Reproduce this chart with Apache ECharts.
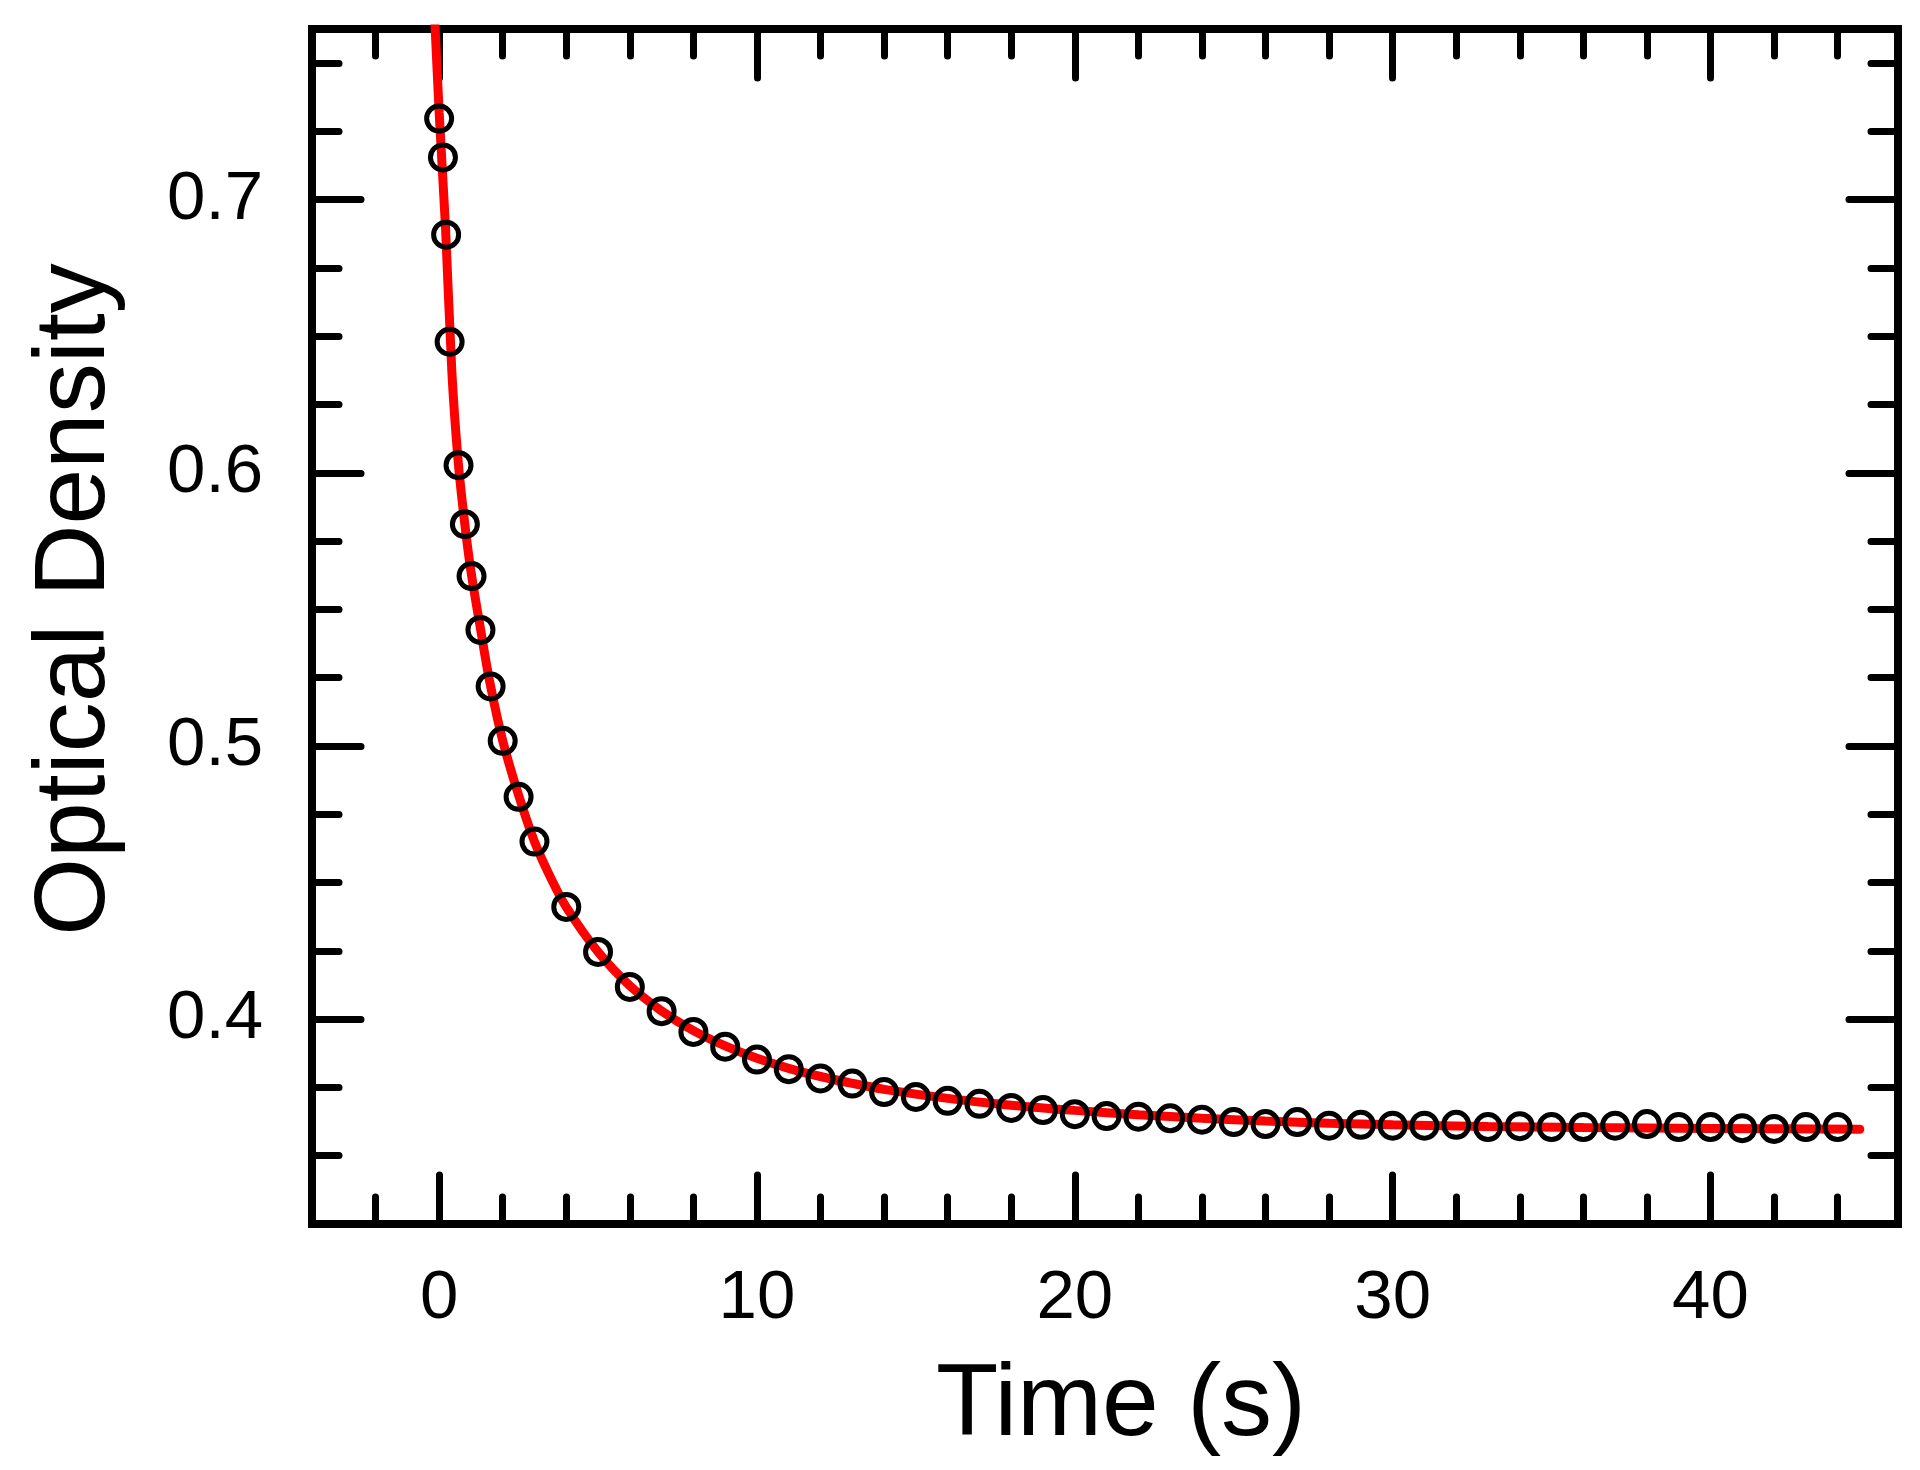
<!DOCTYPE html>
<html>
<head>
<meta charset="utf-8">
<title>Optical Density</title>
<script src="https://cdn.jsdelivr.net/npm/echarts@6.0.0/dist/echarts.min.js"></script>
<style>
    html, body {margin: 0; padding: 0; background: #fff;}
    #chart {width: 1920px; height: 1470px;}
</style>
</head>
<body>
<div id="chart"></div>
<script>
// measured points (circles)
var timeData = [0, 0.12, 0.22, 0.33, 0.61, 0.81, 1.02, 1.3, 1.62, 2, 2.5, 3,
    4, 5, 6, 7, 8, 9, 10, 11, 12, 13, 14, 15, 16, 17, 18, 19, 20, 21, 22, 23, 24,
    25, 26, 27, 28, 29, 30, 31, 32, 33, 34, 35, 36, 37, 38, 39, 40, 41, 42, 43, 44];
var odData = [0.7297, 0.7155, 0.6872, 0.648, 0.6028, 0.5812, 0.5622, 0.5425, 0.5218, 0.5019, 0.4814, 0.465,
    0.4411, 0.4246, 0.4118, 0.4029, 0.3953, 0.3899, 0.3852, 0.3817, 0.3783, 0.3764, 0.3733, 0.3715, 0.3701,
    0.369, 0.3675, 0.3667, 0.3652, 0.3645, 0.3643, 0.3637, 0.3632, 0.3623, 0.3616, 0.3623, 0.361, 0.3613,
    0.361, 0.361, 0.3613, 0.3605, 0.3608, 0.3605, 0.3605, 0.361, 0.3616, 0.3605, 0.3605, 0.3601, 0.3598,
    0.3605, 0.3605];

// fitted curve (red)
var fitTime = [-0.2, 0, 0.2, 0.4, 0.6, 0.8, 1, 1.3, 1.6, 2, 2.5, 3, 3.5, 4, 5, 6, 7, 8, 9, 10,
    11, 12, 13, 14, 16, 18, 20, 22, 24, 26, 28, 30, 33, 36, 40, 44.7];
var fitOD = [0.782, 0.732, 0.69, 0.637, 0.604, 0.582, 0.564, 0.543, 0.523, 0.502, 0.482, 0.465, 0.452,
    0.441, 0.4246, 0.4122, 0.403, 0.3958, 0.3902, 0.3857, 0.382, 0.379, 0.3765, 0.3743, 0.371, 0.3685,
    0.3666, 0.365, 0.3637, 0.3627, 0.3619, 0.3613, 0.3607, 0.3603, 0.36, 0.3597];

// ticks
var xMajorTicks = [0, 10, 20, 30, 40];
var xMinorTicks = [-2, 2, 4, 6, 8, 12, 14, 16, 18, 22, 24, 26, 28, 32, 34, 36, 38, 42, 44];
var yMajorTicks = [0.4, 0.5, 0.6, 0.7];
var yMinorTicks = [0.35, 0.375, 0.425, 0.45, 0.475, 0.525, 0.55, 0.575, 0.625, 0.65, 0.675, 0.725, 0.75];

(function () {
    var font = 'Liberation Sans, Arial, sans-serif';
    var xMin = -4, xMax = 45.9;
    var yMin = 0.325, yMax = 0.7625;

    var tickStyle = {color: '#000', width: 7, cap: 'round'};

    //生成一条只画刻度的轴
    function tickAxis(pos, ticks, len, min, max) {
        return {
            type: 'value',
            position: pos,
            min: min,
            max: max,
            axisLine: {show: false, onZero: false},
            splitLine: {show: false},
            axisLabel: {show: false},
            axisTick: {show: true, inside: true, length: len, customValues: ticks, lineStyle: tickStyle}
        };
    }

    var xMain = tickAxis('bottom', xMajorTicks, 49, xMin, xMax);
    xMain.axisLabel = {
        show: true, customValues: xMajorTicks, margin: 40,
        color: '#000', fontSize: 69, fontFamily: font
    };
    xMain.name = 'Time (s)';
    xMain.nameLocation = 'middle';
    xMain.nameGap = 132;
    xMain.nameTextStyle = {color: '#000', fontSize: 102, fontFamily: font, padding: [0, 0, 0, 32]};

    var yMain = tickAxis('left', yMajorTicks, 49, yMin, yMax);
    yMain.axisLabel = {
        show: true, customValues: yMajorTicks, margin: 49,
        color: '#000', fontSize: 69, fontFamily: font
    };
    yMain.name = 'Optical Density';
    yMain.nameLocation = 'middle';
    yMain.nameGap = 186;
    yMain.nameTextStyle = {color: '#000', fontSize: 100, fontFamily: font, padding: [0, 0, 0, 54]};

    var option = {
        backgroundColor: '#fff',
        animation: false,
        grid: {
            left: 312, right: 22, top: 29, bottom: 246,
            show: true, borderColor: '#000', borderWidth: 8, backgroundColor: 'transparent'
        },
        xAxis: [
            xMain,
            tickAxis('bottom', xMinorTicks, 27, xMin, xMax),
            tickAxis('top', xMajorTicks, 49, xMin, xMax),
            tickAxis('top', xMinorTicks, 27, xMin, xMax)
        ],
        yAxis: [
            yMain,
            tickAxis('left', yMinorTicks, 27, yMin, yMax),
            tickAxis('right', yMajorTicks, 49, yMin, yMax),
            tickAxis('right', yMinorTicks, 27, yMin, yMax)
        ],
        series: [
            {
                name: 'fit',
                type: 'line',
                xAxisIndex: 0,
                yAxisIndex: 0,
                data: fitTime.map(function (t, i) { return [t, fitOD[i]]; }),
                showSymbol: false,
                smooth: 0.3,
                clip: true,
                lineStyle: {color: '#ff0000', width: 9, cap: 'round'},
                z: 2
            },
            {
                name: 'data',
                type: 'scatter',
                xAxisIndex: 0,
                yAxisIndex: 0,
                data: timeData.map(function (t, i) { return [t, odData[i]]; }),
                symbol: 'circle',
                symbolSize: 25,
                itemStyle: {color: 'rgba(0,0,0,0)', borderColor: '#000', borderWidth: 5, opacity: 1},
                z: 3
            }
        ]
    };

    var myChart = echarts.init(document.getElementById('chart'));
    myChart.setOption(option);
})();
</script>
</body>
</html>
